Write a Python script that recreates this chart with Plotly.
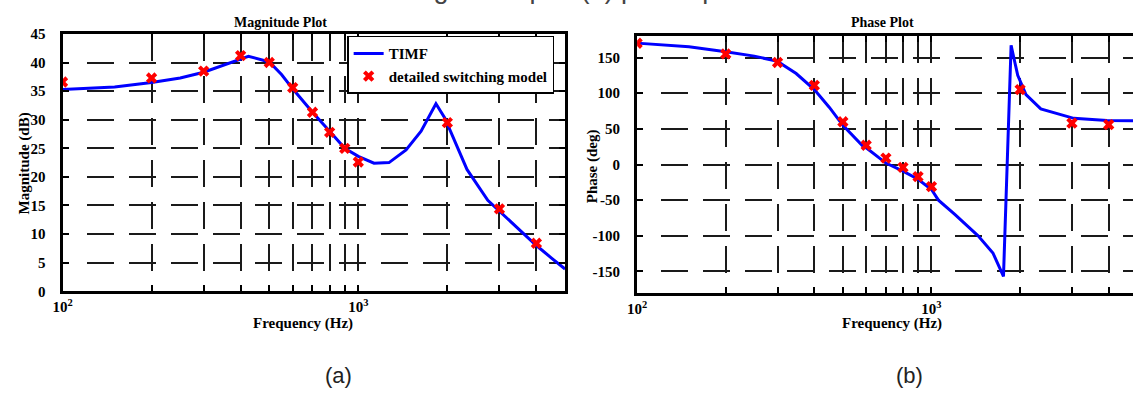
import math
import plotly.graph_objects as go

W, H = 1133, 402

# ---------------- data ----------------
mag_freq = [100, 150, 200, 250, 300, 350, 400, 425, 500, 550, 600, 700, 800, 900,
            1000, 1130, 1270, 1450, 1630, 1830, 1960, 2330, 2740, 3000, 3500, 4000, 4500, 5000]
mag_timf = [35.3, 35.7, 36.5, 37.3, 38.3, 39.6, 40.7, 41.1, 40.1, 37.9, 35.4, 31.3, 28.0, 25.0,
            23.6, 22.4, 22.5, 24.7, 28.0, 32.8, 30.3, 21.3, 15.9, 14.0, 10.8, 8.0, 5.8, 3.9]

ph_freq = [100, 150, 200, 250, 300, 347, 400, 450, 500, 546, 582, 606, 700, 800, 900,
           1000, 1056, 1200, 1440, 1617, 1756, 1864, 1963, 2094, 2351, 3045, 3945, 5000]
ph_timf = [170.2, 165, 158, 152, 144.6, 127.6, 105, 80, 55, 37.7, 26.5, 22, 2, -9.4, -20.6,
           -35, -50, -70, -100, -124, -157, 167, 125, 98, 78, 64.7, 61.6, 61.5]

sw_freq = [100, 200, 300, 400, 500, 600, 700, 800, 900, 1000, 2000, 3000, 4000]
sw_mag = [36.6, 37.3, 38.5, 41.2, 40.0, 35.6, 31.3, 27.8, 25.0, 22.6, 29.5, 14.4, 8.4]
sw_phase = [170, 155, 143, 111, 60, 27, 9, -4, -17, -31, 105, 58, 56]

major_freqs = [100, 1000]
major_labels = ["10<sup>2</sup>", "10<sup>3</sup>"]
minor_freqs = [200, 300, 400, 500, 600, 700, 800, 900, 2000, 3000, 4000, 5000]
mag_ticks = [0, 5, 10, 15, 20, 25, 30, 35, 40, 45]
mag_labels = ["0", "5", "10", "15", "20", "25", "30", "35", "40", "45"]
phase_ticks = [-150, -100, -50, 0, 50, 100, 150]
phase_labels = ["-150", "-100", "-50", "0", "50", "100", "150"]

# ---------------- helpers ----------------
def fx(x):
    return x / W

def fy(y):
    return 1 - y / H

SERIF = "Liberation Serif"
BLUE = "#0000ff"
RED = "#ff0000"
GRIDC = "#1a1a1a"
DASH_V = "27px,15px"
DASH_H = "0px,24px," + ",".join(["27px,15px"] * 13)

fig = go.Figure()

fig.add_trace(go.Scatter(x=mag_freq, y=mag_timf, mode="lines", name="TIMF",
                         line=dict(color=BLUE, width=3), xaxis="x", yaxis="y"))
fig.add_trace(go.Scatter(x=sw_freq, y=sw_mag, mode="markers", name="detailed switching model",
                         marker=dict(symbol="x", size=10, color=RED, line=dict(width=0)),
                         xaxis="x", yaxis="y"))
fig.add_trace(go.Scatter(x=ph_freq, y=ph_timf, mode="lines", showlegend=False,
                         line=dict(color=BLUE, width=3), xaxis="x2", yaxis="y2"))
fig.add_trace(go.Scatter(x=sw_freq, y=sw_phase, mode="markers", showlegend=False,
                         marker=dict(symbol="x", size=10, color=RED, line=dict(width=0)),
                         xaxis="x2", yaxis="y2"))

tickfont = dict(family=SERIF, size=15, color="black", weight="bold")
common = dict(showline=True, linecolor="black", linewidth=3,
              ticks="inside", ticklen=6, tickwidth=2, tickcolor="black",
              showgrid=True, gridcolor=GRIDC, gridwidth=2,
              zeroline=False, tickfont=tickfont, tickmode="array")
minor = dict(tickmode="array", tickvals=minor_freqs, ticks="inside", ticklen=6, tickwidth=2,
             tickcolor="black", showgrid=True, gridcolor=GRIDC, gridwidth=2, griddash=DASH_V)

fig.update_layout(
    width=W, height=H,
    margin=dict(l=0, r=0, t=0, b=0),
    paper_bgcolor="white", plot_bgcolor="white",
    xaxis=dict(domain=[fx(53), fx(560)], type="log", range=[2, math.log10(5000)],
               tickvals=major_freqs, ticktext=major_labels, minor=minor, griddash=DASH_V,
               mirror="ticks", anchor="y", **common),
    yaxis=dict(domain=[fy(295), fy(27)], range=[0, 45], griddash=DASH_H,
               tickvals=mag_ticks, ticktext=mag_labels, mirror="ticks", anchor="x",
               ticklabelstandoff=11, **common),
    xaxis2=dict(domain=[fx(632.7), 1.0], type="log", range=[2, 2 + (1133 - 632.7) / 297],
                tickvals=major_freqs, ticktext=major_labels, minor=minor, griddash=DASH_V,
                mirror="ticks", anchor="y2", **common),
    yaxis2=dict(domain=[fy(296.7), fy(29.3)], range=[-180, 180], griddash=DASH_H,
                tickvals=phase_ticks, ticktext=phase_labels, mirror=False, anchor="x2",
                ticklabelstandoff=11, **common),
    legend=dict(x=fx(549), xanchor="right", y=fy(29), yanchor="top",
                bgcolor="white", bordercolor="black", borderwidth=1.5,
                font=dict(family=SERIF, size=15, color="black", weight="bold"),
                itemwidth=30, tracegroupgap=0),
    showlegend=True,
)

ann_font = dict(family=SERIF, size=15, color="black", weight="bold")
title_font = dict(family=SERIF, size=14, color="black", weight="bold")
annotations = [
    dict(text="Magnitude Plot", x=fx(273), y=fy(15), font=title_font),
    dict(text="Phase Plot", x=fx(880), y=fy(15), font=title_font),
    dict(text="Magnitude (dB)", x=fx(15), y=fy(162), textangle=-90, font=ann_font),
    dict(text="Phase (deg)", x=fx(588), y=fy(165), textangle=-90, font=ann_font),
    dict(text="Frequency (Hz)", x=fx(296), y=fy(329), font=ann_font),
    dict(text="Frequency (Hz)", x=fx(890), y=fy(329), font=ann_font),
    dict(text="(a)", x=fx(331), y=fy(383), font=dict(family="Liberation Sans", size=22, color="#222")),
    dict(text="(b)", x=fx(908), y=fy(383), font=dict(family="Liberation Sans", size=22, color="#222")),
]
for a in annotations:
    a.update(xref="paper", yref="paper", showarrow=False, xanchor="center", yanchor="middle",
             borderpad=0)
    fig.add_annotation(**a)

fig.add_annotation(text="magnitude plot (b) phase plot", xref="paper", yref="paper",
                   x=fx(387), y=fy(-2.5), xanchor="left", yanchor="bottom", showarrow=False,
                   font=dict(family="Liberation Sans", size=27, color="#444"))

fig.write_html("out.html")
